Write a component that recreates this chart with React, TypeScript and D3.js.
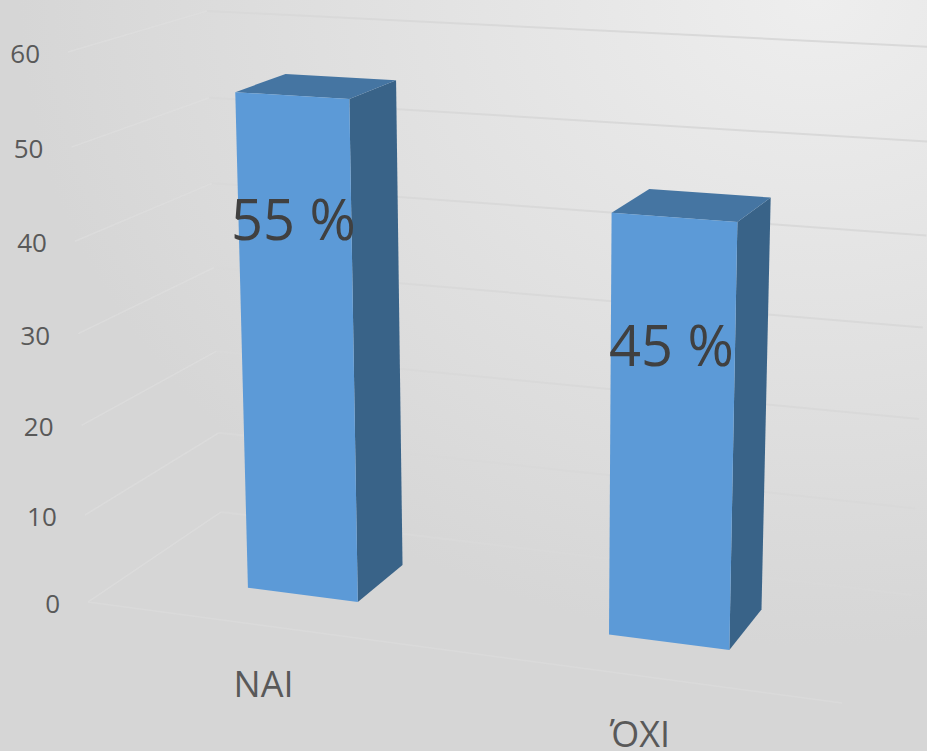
import React from "react";
import * as d3 from "d3";

const categories = ["ΝΑΙ", "ΌΧΙ"];
const values = [55, 45];
const dataLabels = ["55 %", "45 %"];
const yTicks = [0, 10, 20, 30, 40, 50, 60];
// Share of the wall height at each axis tick (the 3D view compresses the lower part).
const tickShares = [0, 0.158, 0.321, 0.488, 0.656, 0.827, 1];

type Pt = [number, number];
const W = 927;
const H = 751;
// Perspective frame of the chart box, order: front-left, front-right, back-right, back-left.
const floorQuad: Pt[] = [[88, 602], [842, 703], [912, 595], [221, 512]];
const ceilQuad: Pt[] = [[68, 52], [861, 97], [934, 47], [207, 11]];

function homography(q: Pt[]) {
  const [[x0, y0], [x1, y1], [x2, y2], [x3, y3]] = q;
  const sx = x0 - x1 + x2 - x3;
  const sy = y0 - y1 + y2 - y3;
  const dx1 = x1 - x2, dx2 = x3 - x2, dy1 = y1 - y2, dy2 = y3 - y2;
  const det = dx1 * dy2 - dx2 * dy1;
  const g = (sx * dy2 - dx2 * sy) / det;
  const h = (dx1 * sy - sx * dy1) / det;
  const a = x1 - x0 + g * x1, b = x3 - x0 + h * x3;
  const d = y1 - y0 + g * y1, e = y3 - y0 + h * y3;
  return (u: number, w: number): Pt => {
    const D = g * u + h * w + 1;
    return [(a * u + b * w + x0) / D, (d * u + e * w + y0) / D];
  };
}
const floorAt = homography(floorQuad);
const ceilAt = homography(ceilQuad);
const heightShare = d3.scaleLinear().domain(yTicks).range(tickShares);

function project(u: number, w: number, v: number): Pt {
  const p0 = floorAt(u, w);
  const p1 = ceilAt(u, w);
  const t = heightShare(v);
  return [p0[0] + (p1[0] - p0[0]) * t, p0[1] + (p1[1] - p0[1]) * t];
}

const xBand = d3.scaleBand<string>().domain(categories).range([0, 1]).paddingInner(0.686).paddingOuter(0.343);
const depthBand = d3.scaleBand<string>().domain(["s"]).range([0, 1]).padding(0.439);
const line = d3.line();
const poly = (pts: Pt[]) => line(pts)! + "Z";

const FONT = "'Open Sans', sans-serif";

export default function App() {
  const w0 = depthBand("s")!;
  const w1 = w0 + depthBand.bandwidth();
  return (
    <svg
      width={W}
      height={H}
      viewBox={`0 0 ${W} ${H}`}
      style={{ position: "absolute", left: 0, top: 0, display: "block" }}
    >
      <defs>
        <radialGradient id="bg" cx="0.88" cy="0" r="0.86" fx="0.88" fy="0">
          <stop offset="0" stopColor="#eeeeee" />
          <stop offset="1" stopColor="#d6d6d6" />
        </radialGradient>
      </defs>
      <rect width={W} height={H} fill="url(#bg)" />

      {/* walls */}
      {yTicks.map((t) => (
        <g key={t} fill="none">
          <path d={line([project(0, 0, t), project(0, 1, t)])!} stroke="#e0e0e0" strokeOpacity={0.55} strokeWidth={1.5} />
          <path d={line([project(0, 1, t), project(1, 1, t)])!} stroke="#d9d9d9" strokeWidth={2} />
        </g>
      ))}
      <path d={line([project(0, 0, 0), project(1, 0, 0)])!} fill="none" stroke="#dadada" strokeWidth={1.5} />

      {/* y axis labels */}
      {yTicks.map((t) => {
        const [x, y] = project(0, 0, t);
        return (
          <text key={t} x={x - 28} y={y + 11} textAnchor="end" fontFamily={FONT} fontSize={26} fill="#595959">
            {t}
          </text>
        );
      })}

      {/* bars */}
      {categories.map((c, i) => {
        const u0 = xBand(c)!;
        const u1 = u0 + xBand.bandwidth();
        const v = values[i];
        return (
          <g key={c}>
            <path
              d={poly([project(u1, w0, 0), project(u1, w1, 0), project(u1, w1, v), project(u1, w0, v)])}
              fill="#396388"
            />
            <path
              d={poly([project(u0, w0, v), project(u1, w0, v), project(u1, w1, v), project(u0, w1, v)])}
              fill="#4575a2"
            />
            <path
              d={poly([project(u0, w0, 0), project(u1, w0, 0), project(u1, w0, v), project(u0, w0, v)])}
              fill="#5c9ad7"
            />
          </g>
        );
      })}

      {/* data labels */}
      {categories.map((c, i) => {
        const [x, y] = project(xBand(c)! + xBand.bandwidth() / 2, w0, values[i] - 13.2);
        return (
          <text key={c} x={x - 1} y={y + 20.5} textAnchor="middle" fontFamily={FONT} fontSize={56} fill="#404040">
            {dataLabels[i]}
          </text>
        );
      })}

      {/* category labels */}
      {categories.map((c) => {
        const [x, y] = project(xBand(c)! + xBand.bandwidth() / 2, 0, 0);
        return (
          <text key={c} x={x} y={y + 71.5} textAnchor="middle" fontFamily={FONT} fontSize={36} fill="#595959">
            {c}
          </text>
        );
      })}
    </svg>
  );
}
